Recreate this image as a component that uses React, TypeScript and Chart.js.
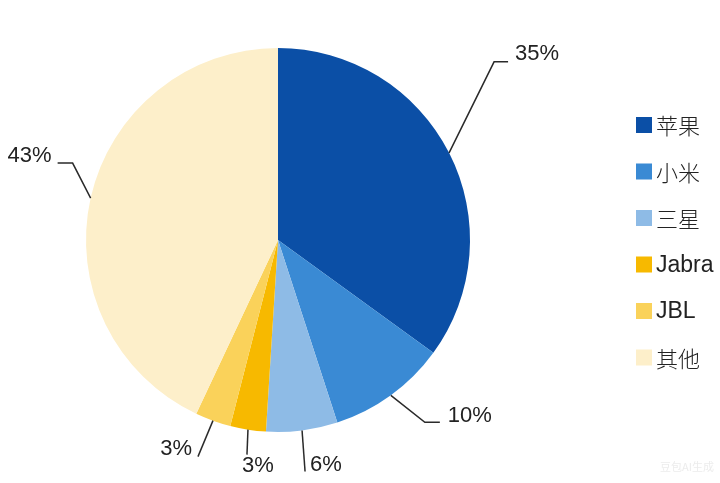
import React, { useEffect, useRef } from "react";
import { Chart, registerables } from "chart.js";

Chart.register(...registerables);

const brands = ["苹果", "小米", "三星", "Jabra", "JBL", "其他"];
const shares = [35, 10, 6, 3, 3, 43];
const colors = ["#0b4fa6", "#3a8ad4", "#8ebbe6", "#f7b900", "#fad25a", "#fdefca"];

// label leader layout: [elbowDx, elbowDy, tailDx, textDx, textDy, align]
const labelLayout: [number, number, number, number, number, CanvasTextAlign][] = [
  [45, -91, 14, 7, -8, "left"],
  [34, 27, 15, 8, -6, "left"],
  [3, 41, 0, 5, -7, "left"],
  [-1, 25, 0, 11, 11, "center"],
  [-15, 36, 0, -6, -8, "right"],
  [-18, -35, -15, -6, -7, "right"],
];

const labelsPlugin = {
  id: "leaderLabels",
  afterDatasetsDraw(chart: any) {
    const ctx = chart.ctx;
    const meta = chart.getDatasetMeta(0);
    const data = chart.data.datasets[0].data as number[];
    const total = data.reduce((a: number, b: number) => a + b, 0);
    ctx.save();
    meta.data.forEach((arc: any, i: number) => {
      const { x, y, outerRadius, startAngle, endAngle } = arc.getProps(
        ["x", "y", "outerRadius", "startAngle", "endAngle"],
        true
      );
      const mid = (startAngle + endAngle) / 2;
      const ex = x + Math.cos(mid) * outerRadius;
      const ey = y + Math.sin(mid) * outerRadius;
      const [edx, edy, tdx, txdx, txdy, align] = labelLayout[i];
      const bx = ex + edx;
      const by = ey + edy;
      const tx = bx + tdx;
      ctx.strokeStyle = "#2a2a2a";
      ctx.lineWidth = 1.5;
      ctx.beginPath();
      ctx.moveTo(ex, ey);
      ctx.lineTo(bx, by);
      if (tdx !== 0) ctx.lineTo(tx, by);
      ctx.stroke();
      ctx.fillStyle = "#222";
      ctx.font = "22px 'Liberation Sans', Arial, sans-serif";
      ctx.textAlign = align;
      ctx.textBaseline = "middle";
      const pct = Math.round((data[i] / total) * 100) + "%";
      ctx.fillText(pct, tx + txdx, by + txdy);
    });
    ctx.restore();
  },
};

const legendPlugin = {
  id: "sideLegend",
  afterDraw(chart: any) {
    const ctx = chart.ctx;
    const labels = chart.data.labels as string[];
    const bg = chart.data.datasets[0].backgroundColor as string[];
    ctx.save();
    labels.forEach((lab, i) => {
      const cy = 125 + i * 46.5;
      ctx.fillStyle = bg[i];
      ctx.fillRect(636, cy - 8, 16, 16);
      ctx.fillStyle = "#222";
      const isCJK = /[\u4e00-\u9fff]/.test(lab);
      ctx.font = isCJK
        ? "300 22px 'Noto Sans CJK SC', sans-serif"
        : "23px 'Liberation Sans', Arial, sans-serif";
      ctx.textAlign = "left";
      ctx.textBaseline = "middle";
      ctx.fillText(lab, 656, cy + 1);
    });
    ctx.fillStyle = "#ececec";
    ctx.font = "11px 'Noto Sans CJK SC', sans-serif";
    ctx.textAlign = "left";
    ctx.fillText("豆包AI生成", 660, 467);
    ctx.restore();
  },
};

export default function App() {
  const ref = useRef<HTMLCanvasElement>(null);
  useEffect(() => {
    if (!ref.current) return;
    const chart = new Chart(ref.current, {
      type: "pie",
      data: {
        labels: brands,
        datasets: [
          {
            data: shares,
            backgroundColor: colors,
            borderWidth: 0,
          },
        ],
      },
      options: {
        responsive: false,
        animation: false,
        layout: { padding: { left: 86, right: 250, top: 48, bottom: 51 } },
        plugins: {
          legend: { display: false },
          tooltip: { enabled: false },
        },
      },
      plugins: [labelsPlugin, legendPlugin],
    });
    return () => chart.destroy();
  }, []);
  return (
    <div style={{ position: "fixed", left: 0, top: 0, width: 720, height: 483, background: "#fff" }}>
      <canvas ref={ref} width={720} height={483} style={{ width: 720, height: 483 }} />
    </div>
  );
}
